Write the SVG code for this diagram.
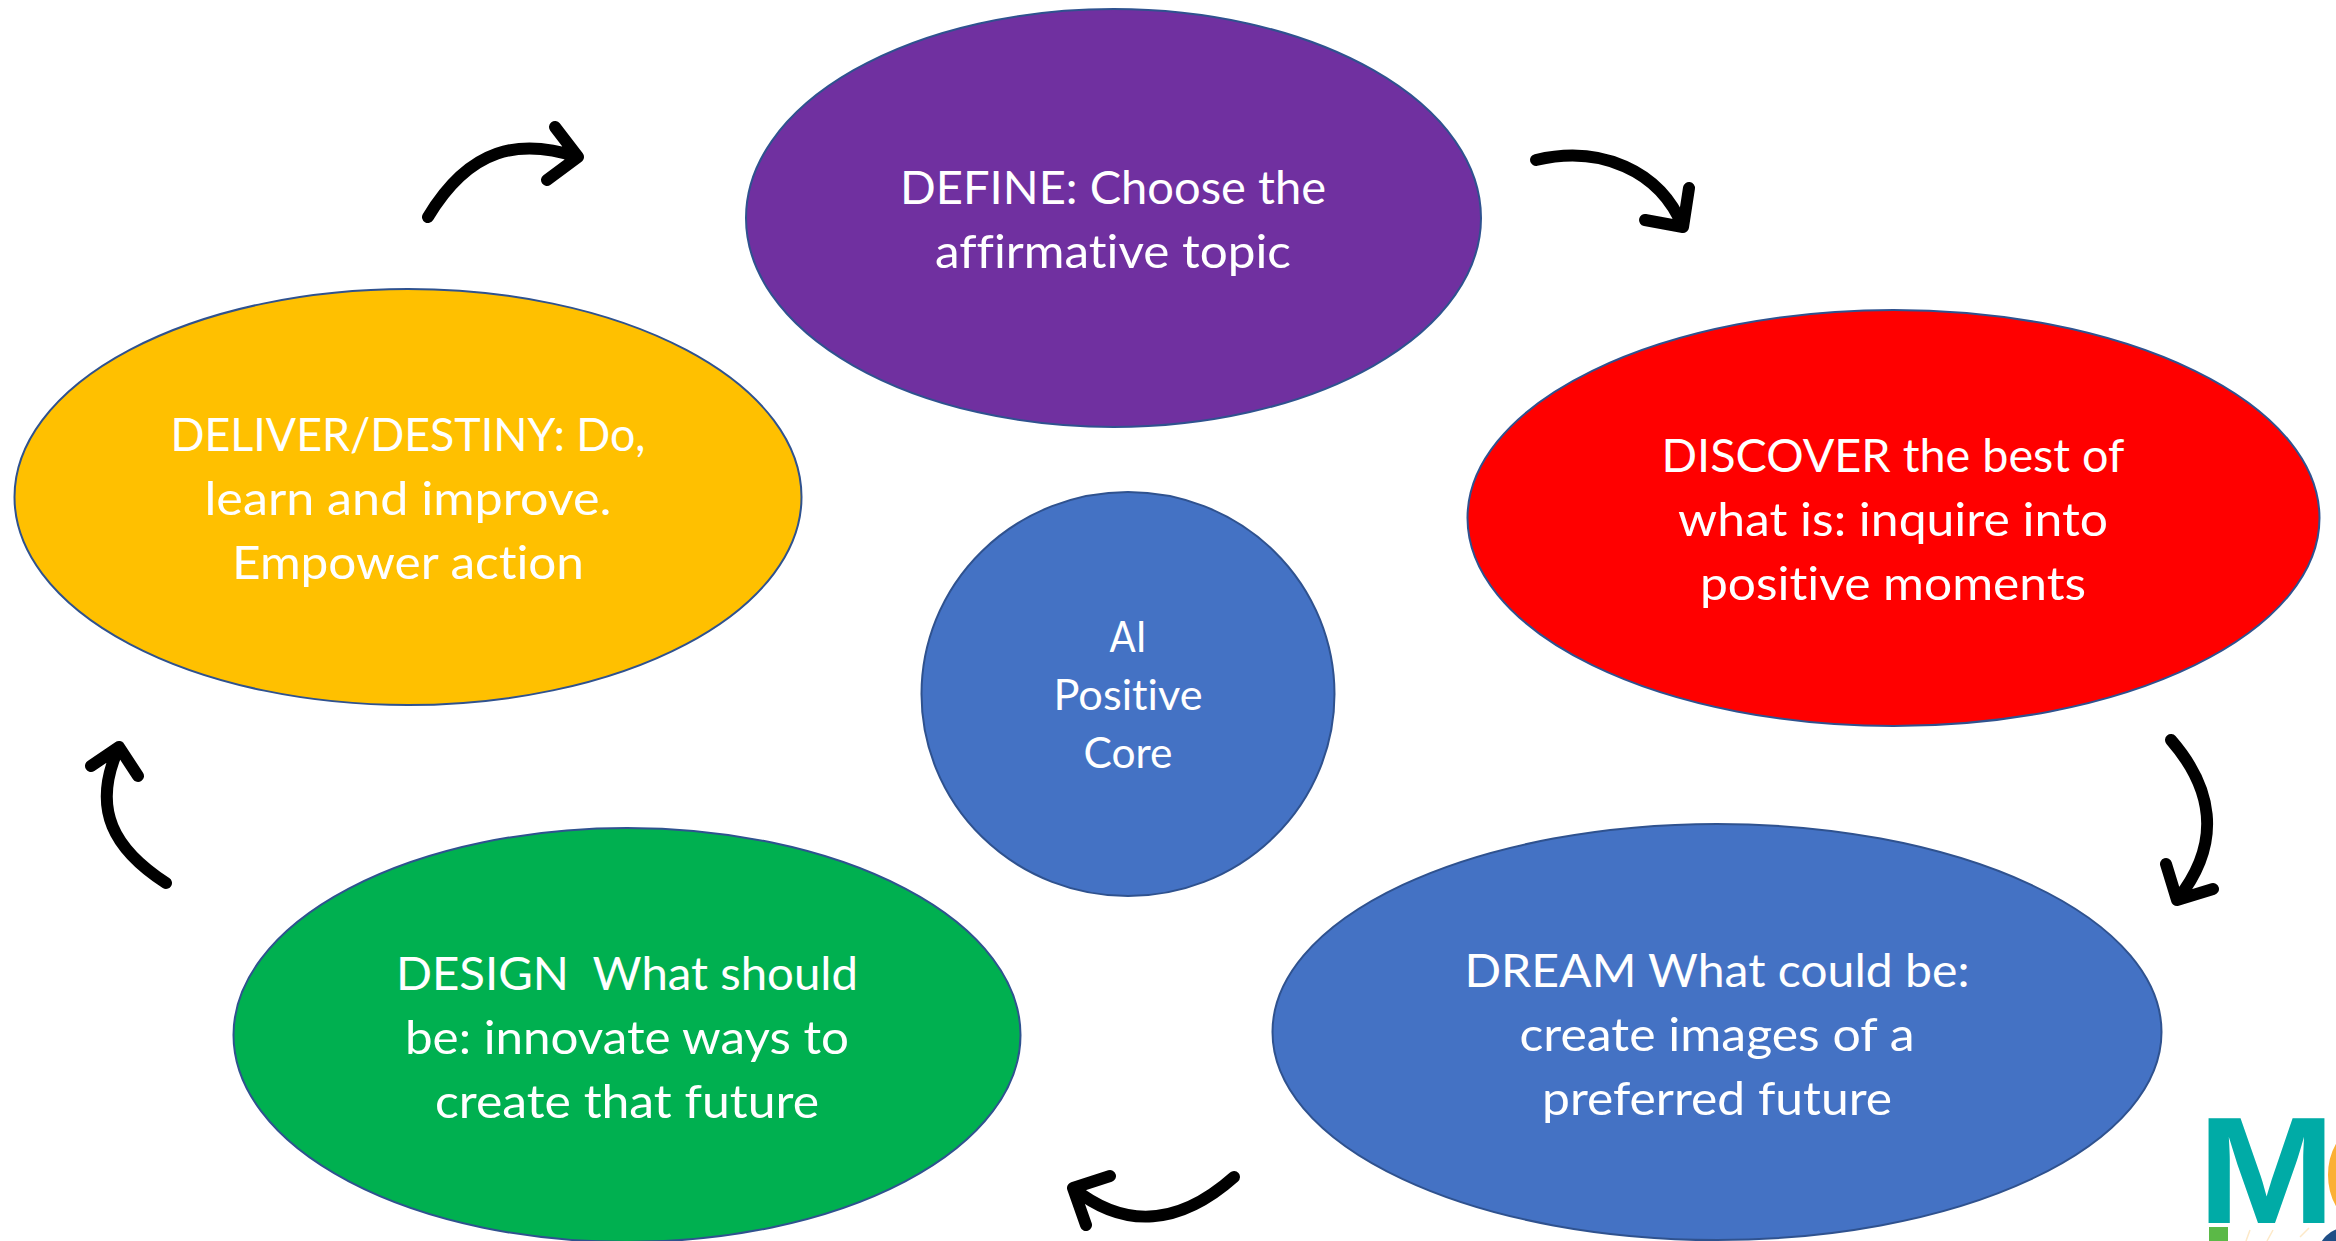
<svg xmlns="http://www.w3.org/2000/svg" width="2336" height="1241" viewBox="0 0 2336 1241">
<style>
.n{stroke:#2F528F;stroke-width:2}
.t{font-family:Lato,"Open Sans",sans-serif;font-size:47px;fill:#fff;text-anchor:middle;font-variant-ligatures:none}
.c{font-size:43px}
.a{fill:none;stroke:#000;stroke-width:12;stroke-linecap:round;stroke-linejoin:round}
</style>
<rect width="2336" height="1241" fill="#fff"/>
<g id="define"><ellipse class="n" cx="1113.500" cy="218" rx="367.500" ry="209" fill="#7030A0"/>
<text class="t" x="1113" y="204" textLength="426" lengthAdjust="spacingAndGlyphs">DEFINE: Choose the</text><text class="t" x="1113" y="268" textLength="356" lengthAdjust="spacingAndGlyphs">affirmative topic</text></g>
<g id="discover"><ellipse class="n" cx="1893.500" cy="518" rx="426" ry="208" fill="#FF0000"/>
<text class="t" x="1893" y="472" textLength="463" lengthAdjust="spacingAndGlyphs">DISCOVER the best of</text><text class="t" x="1893" y="536" textLength="430" lengthAdjust="spacingAndGlyphs">what is: inquire into</text><text class="t" x="1893" y="600" textLength="386" lengthAdjust="spacingAndGlyphs">positive moments</text></g>
<g id="dream"><ellipse class="n" cx="1717" cy="1032" rx="444.500" ry="208" fill="#4472C4"/>
<text class="t" x="1717" y="987" textLength="505" lengthAdjust="spacingAndGlyphs">DREAM What could be:</text><text class="t" x="1717" y="1051" textLength="395" lengthAdjust="spacingAndGlyphs">create images of a</text><text class="t" x="1717" y="1115" textLength="350" lengthAdjust="spacingAndGlyphs">preferred future</text></g>
<g id="design"><ellipse class="n" cx="627" cy="1035" rx="393.500" ry="207" fill="#00B050"/>
<text class="t" x="627" y="990" xml:space="preserve" textLength="462" lengthAdjust="spacingAndGlyphs">DESIGN  What should</text><text class="t" x="627" y="1054" textLength="444" lengthAdjust="spacingAndGlyphs">be: innovate ways to</text><text class="t" x="627" y="1118" textLength="384" lengthAdjust="spacingAndGlyphs">create that future</text></g>
<g id="deliver"><ellipse class="n" cx="408" cy="497" rx="393.500" ry="208" fill="#FFC000"/>
<text class="t" x="408" y="451" textLength="475" lengthAdjust="spacingAndGlyphs">DELIVER/DESTINY: Do,</text><text class="t" x="408" y="515" textLength="407" lengthAdjust="spacingAndGlyphs">learn and improve.</text><text class="t" x="408" y="579" textLength="352" lengthAdjust="spacingAndGlyphs">Empower action</text></g>
<g id="core"><ellipse class="n" cx="1128" cy="694" rx="206.500" ry="202" fill="#4472C4"/>
<text class="t c" x="1128" y="652" textLength="37" lengthAdjust="spacingAndGlyphs">AI</text><text class="t c" x="1128" y="710" textLength="149" lengthAdjust="spacingAndGlyphs">Positive</text><text class="t c" x="1128" y="768" textLength="89" lengthAdjust="spacingAndGlyphs">Core</text></g>
<g id="connectors">
<path class="a" d="M428 217C470 147 520 138 578 157M555 127L578 157L547 180"/>
<path class="a" d="M1536 160C1600 145 1660 170 1683 227M1689 188L1683 227L1645 220"/>
<path class="a" d="M2171 740C2210 785 2225 840 2177 900M2166 864L2177 900L2213 889"/>
<path class="a" d="M1234 1177C1180 1225 1125 1230 1073 1188M1110 1176L1073 1188L1086 1225"/>
<path class="a" d="M166 883C115 850 90 810 119 747M91 766L119 747L138 776"/>
</g>
<g id="logo">
<circle cx="2392" cy="1175" r="56" fill="none" stroke="#FBB034" stroke-width="16"/>
<text x="2197.500" y="1223" font-family="Liberation Sans,sans-serif" font-weight="700" font-size="152" fill="#00ABA6" textLength="138" lengthAdjust="spacingAndGlyphs">M</text>
<rect x="2209" y="1227" width="19" height="14" fill="#5BB947"/>
<path d="M2250 1230L2246 1241M2273 1230L2267 1241M2309 1228L2300 1237" stroke="#FDE9C8" stroke-width="1.500"/>
<circle cx="2345" cy="1255" r="27" fill="#1F4E86"/>
</g>
</svg>
